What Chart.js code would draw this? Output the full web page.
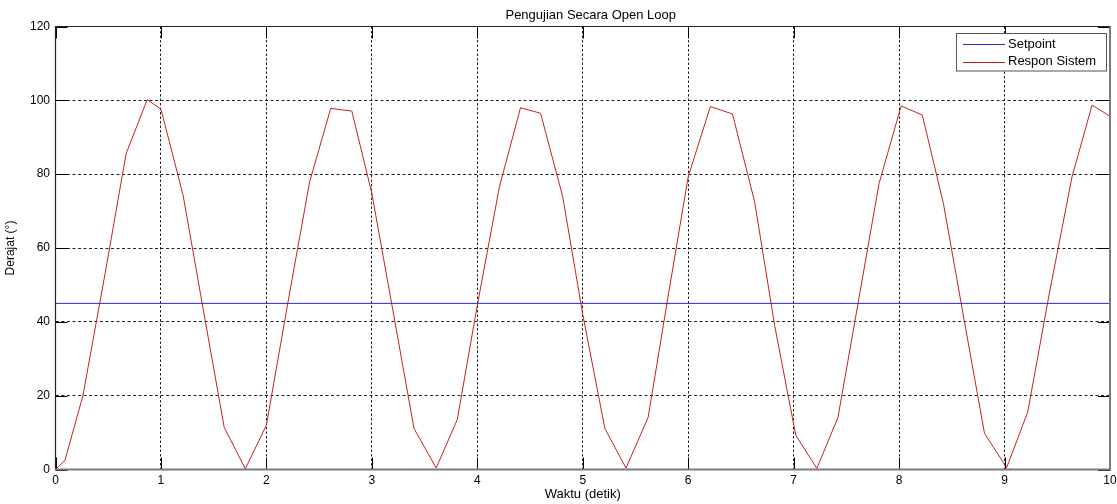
<!DOCTYPE html>
<html><head><meta charset="utf-8">
<script src="https://cdn.jsdelivr.net/npm/chart.js@4.4.0/dist/chart.umd.min.js"></script>
<style>html,body{margin:0;padding:0;background:#fff;overflow:hidden}#wrap{width:1117px;height:504px}</style>
</head><body><div id="wrap"><canvas id="c" width="1117" height="504"></canvas></div>
<script>
const titleText = 'Pengujian Secara Open Loop';
const xAxisTitle = 'Waktu (detik)';
const yAxisTitle = 'Derajat (°)';
const seriesNames = ['Setpoint', 'Respon Sistem'];
const seriesColors = ['#2a2ac8', '#c82020'];

const timeSec = [0, 0.09, 0.26, 0.47, 0.67, 0.87, 1.0, 1.21, 1.4, 1.6, 1.8, 2.0, 2.2, 2.41, 2.61, 2.81, 3.0, 3.2, 3.4, 3.61, 3.81, 4.0, 4.21, 4.41, 4.6, 4.81, 5.0, 5.21, 5.41, 5.62, 5.81, 6.0, 6.21, 6.42, 6.63, 6.82, 7.02, 7.22, 7.42, 7.62, 7.81, 8.02, 8.22, 8.42, 8.62, 8.81, 9.02, 9.22, 9.42, 9.64, 9.83, 10.0];
const responDeg = [0, 2.5, 20, 53, 85.6, 100.2, 97.6, 74.3, 43.5, 11.4, 0.2, 12, 44.6, 77.9, 97.8, 97.1, 74.8, 43, 11.1, 0.4, 13.5, 44.5, 76.6, 98.0, 96.5, 73.9, 42, 11.1, 0.4, 14.1, 47, 79.3, 98.3, 96.3, 72.5, 39, 9.3, 0.3, 14.1, 46.5, 77.5, 98.5, 96.0, 72.1, 40, 9.8, 0.5, 15.6, 47, 79.3, 98.7, 95.7];
const setpointTime = [0, 10];
const setpointDeg = [45, 45];
const xTicks = [0, 1, 2, 3, 4, 5, 6, 7, 8, 9, 10];
const yTicks = [0, 20, 40, 60, 80, 100, 120];

const FONT = '"Liberation Sans", Arial, sans-serif';

const toPts = (xs, ys) => xs.map((x, i) => ({x: x, y: ys[i]}));

const framePlugin = {
  id: 'frame',
  afterDatasetsDraw(chart) {
    const {ctx, chartArea: a, scales} = chart;
    ctx.save();
    ctx.strokeStyle = '#000';
    ctx.lineWidth = 1;
    ctx.setLineDash([]);
    const tl = 12;
    ctx.beginPath();
    xTicks.forEach(v => {
      const px = Math.round(scales.x.getPixelForValue(v)) + 0.5;
      ctx.moveTo(px, a.bottom); ctx.lineTo(px, a.bottom - tl);
      ctx.moveTo(px, a.top); ctx.lineTo(px, a.top + tl);
    });
    yTicks.forEach(v => {
      const py = Math.round(scales.y.getPixelForValue(v)) + 0.5;
      ctx.moveTo(a.left, py); ctx.lineTo(a.left + tl, py);
      ctx.moveTo(a.right, py); ctx.lineTo(a.right - tl, py);
    });
    ctx.stroke();
    ctx.strokeStyle = '#222';
    ctx.lineWidth = 1.2;
    ctx.beginPath();
    ctx.moveTo(a.left, a.bottom); ctx.lineTo(a.left, a.top); ctx.lineTo(a.right, a.top);
    ctx.stroke();
    ctx.strokeStyle = '#7a7a7a';
    ctx.lineWidth = 2;
    ctx.beginPath();
    ctx.moveTo(a.left, a.bottom); ctx.lineTo(a.right, a.bottom); ctx.lineTo(a.right, a.top);
    ctx.stroke();
    ctx.restore();
  },
  afterDraw(chart) {
    const {ctx, chartArea: a} = chart;
    ctx.save();
    ctx.fillStyle = '#000';
    ctx.font = '13px ' + FONT;
    ctx.textAlign = 'center';
    ctx.textBaseline = 'alphabetic';
    ctx.fillText(titleText, (a.left + a.right) / 2 + 8, 18.5);
    const bw = 150, bh = 37.5;
    const bx = a.right - 4 - bw, by = a.top + 6.5;
    ctx.fillStyle = '#fff';
    ctx.fillRect(bx, by, bw, bh);
    ctx.strokeStyle = '#555';
    ctx.lineWidth = 1;
    ctx.strokeRect(Math.round(bx) + 0.5, Math.round(by) + 0.5, bw, bh);
    ctx.font = '13px ' + FONT;
    ctx.textAlign = 'left';
    ctx.textBaseline = 'middle';
    seriesNames.forEach((name, i) => {
      const y = by + 11 + i * 17.5;
      ctx.strokeStyle = seriesColors[i];
      ctx.beginPath();
      ctx.moveTo(bx + 7, Math.round(y) + 0.5); ctx.lineTo(bx + 49, Math.round(y) + 0.5);
      ctx.stroke();
      ctx.fillStyle = '#000';
      ctx.fillText(name, bx + 52, y);
    });
    ctx.restore();
  }
};

new Chart(document.getElementById('c'), {
  type: 'line',
  data: {
    datasets: [
      {label: seriesNames[0], data: toPts(setpointTime, setpointDeg), borderColor: seriesColors[0], borderWidth: 1, pointRadius: 0, tension: 0, fill: false},
      {label: seriesNames[1], data: toPts(timeSec, responDeg), borderColor: seriesColors[1], borderWidth: 1, pointRadius: 0, tension: 0, fill: false}
    ]
  },
  options: {
    responsive: false,
    animation: false,
    devicePixelRatio: 1,
    layout: {padding: {top: 26.5, right: 7, left: 0, bottom: 0}},
    plugins: {legend: {display: false}, title: {display: false}, tooltip: {enabled: false}},
    scales: {
      x: {
        type: 'linear', min: 0, max: 10,
        afterBuildTicks: s => { s.ticks = xTicks.map(v => ({value: v})); },
        afterFit: s => { s.height = 34.5; s.paddingRight = 0; s.paddingLeft = 0; },
        ticks: {color: '#000', font: {family: FONT, size: 12}, padding: 4, maxRotation: 0, autoSkip: false},
        grid: {color: c => (c.tick && c.tick.value > 0 && c.tick.value < 10) ? '#222' : 'rgba(0,0,0,0)', lineWidth: 1, drawTicks: false},
        border: {display: false, dash: [2.5, 2]},
        title: {display: true, text: xAxisTitle, color: '#000', font: {family: FONT, size: 13}, padding: {top: 0, bottom: 2}}
      },
      y: {
        type: 'linear', min: 0, max: 120,
        afterBuildTicks: s => { s.ticks = yTicks.map(v => ({value: v})); },
        afterFit: s => { s.width = 55.5; s.paddingTop = 0; s.paddingBottom = 0; },
        ticks: {color: '#000', font: {family: FONT, size: 12}, padding: 5.5},
        grid: {color: c => (c.tick && c.tick.value > 0 && c.tick.value < 120) ? '#222' : 'rgba(0,0,0,0)', lineWidth: 1, drawTicks: false},
        border: {display: false, dash: [3, 2.5]},
        title: {display: true, text: yAxisTitle, color: '#000', font: {family: FONT, size: 12}, padding: {top: 3, bottom: 0}}
      }
    }
  },
  plugins: [framePlugin]
});
</script>
</body></html>
